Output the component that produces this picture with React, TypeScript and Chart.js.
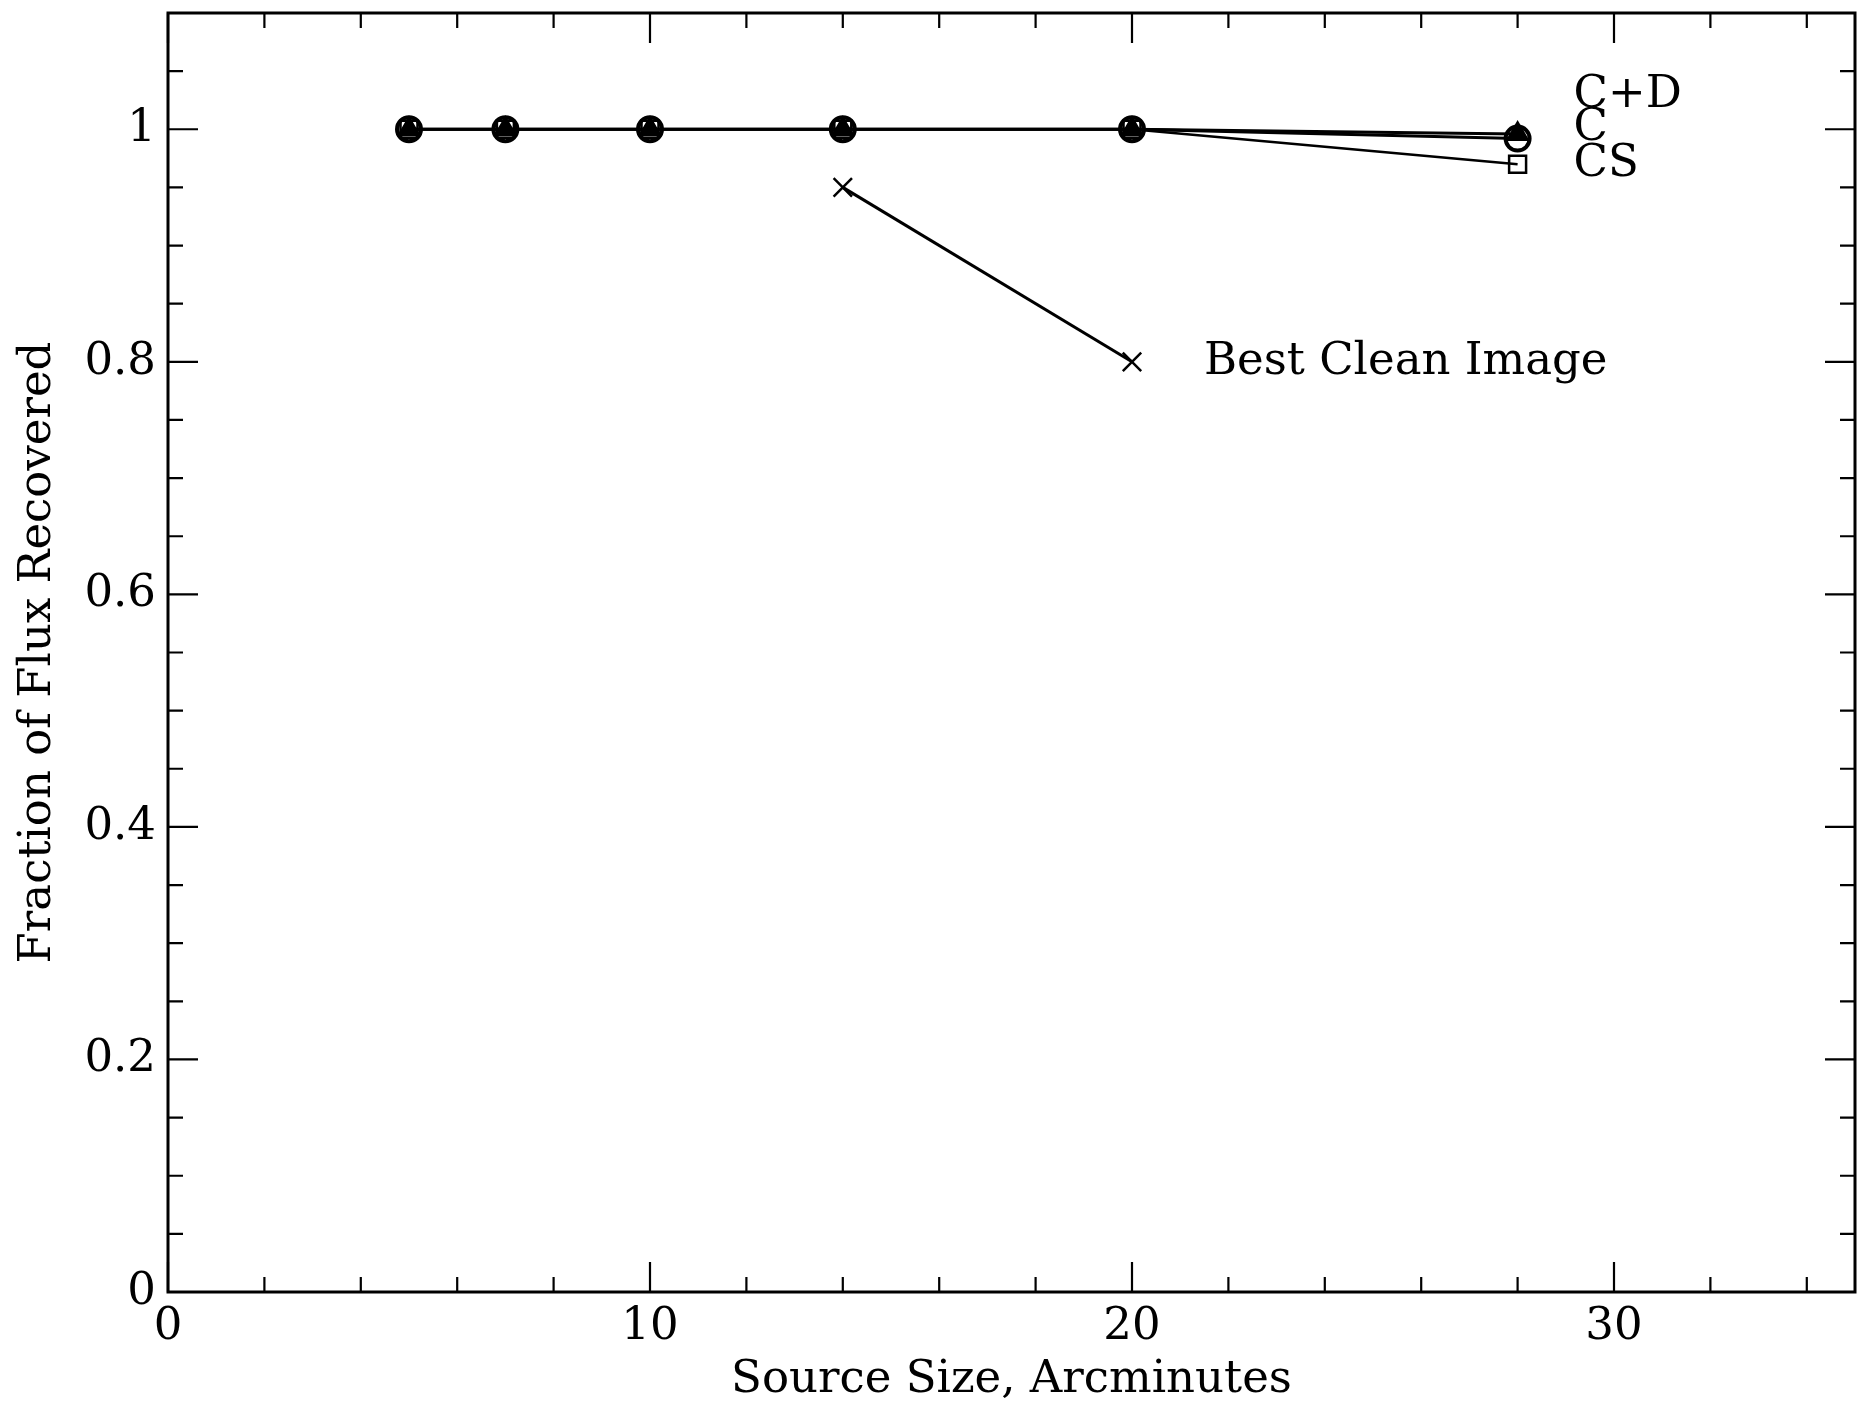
import React, { useEffect, useRef } from "react";
import { Chart, registerables } from "chart.js";

Chart.register(...registerables);

// ---- data ----
const sourceSizes = [5, 7, 10, 14, 20, 28];
const fluxCD = [1.0, 1.0, 1.0, 1.0, 1.0, 0.996];
const fluxC = [1.0, 1.0, 1.0, 1.0, 1.0, 0.992];
const fluxCS = [1.0, 1.0, 1.0, 1.0, 1.0, 0.97];
const cleanSizes = [14, 20];
const fluxClean = [0.95, 0.8];
const seriesNames = ["C+D", "C", "CS", "Best Clean Image"];

const xTickValues = [0, 10, 20, 30];
const xMinorTicks = [2, 4, 6, 8, 12, 14, 16, 18, 22, 24, 26, 28, 32, 34];
const yTickValues = [0, 0.2, 0.4, 0.6, 0.8, 1];
const yMinorTicks = [0.05, 0.1, 0.15, 0.25, 0.3, 0.35, 0.45, 0.5, 0.55, 0.65, 0.7, 0.75, 0.85, 0.9, 0.95, 1.05];

const FONT = "'DejaVu Serif', serif";

const toPoints = (xs: number[], ys: number[]) => xs.map((x, i) => ({ x, y: ys[i] }));

// label offsets (pixels) relative to each series' last point
const labelOffsets = [
  { dx: 56, dy: -39 },
  { dx: 56, dy: -10 },
  { dx: 56, dy: 0 },
  { dx: 72, dy: 0 },
];

const framePlugin = {
  id: "frameTicks",
  afterDatasetsDraw(chart: any) {
    const { ctx, chartArea, scales } = chart;
    const { left, right, top, bottom } = chartArea;
    const xs = scales.x;
    const ys = scales.y;
    ctx.save();
    ctx.strokeStyle = "#000";
    ctx.lineCap = "butt";
    // frame
    ctx.lineWidth = 3;
    ctx.strokeRect(left, top, right - left, bottom - top);
    // ticks
    ctx.lineWidth = 2.2;
    const major = 30;
    const minor = 15;
    ctx.beginPath();
    const xt = (v: number, len: number) => {
      const px = xs.getPixelForValue(v);
      ctx.moveTo(px, bottom);
      ctx.lineTo(px, bottom - len);
      ctx.moveTo(px, top);
      ctx.lineTo(px, top + len);
    };
    const yt = (v: number, len: number) => {
      const py = ys.getPixelForValue(v);
      ctx.moveTo(left, py);
      ctx.lineTo(left + len, py);
      ctx.moveTo(right, py);
      ctx.lineTo(right - len, py);
    };
    xTickValues.forEach((v) => xt(v, major));
    xMinorTicks.forEach((v) => xt(v, minor));
    yTickValues.forEach((v) => yt(v, major));
    yMinorTicks.forEach((v) => yt(v, minor));
    ctx.stroke();

    // series labels
    ctx.fillStyle = "#000";
    ctx.font = `45px ${FONT}`;
    ctx.textAlign = "left";
    ctx.textBaseline = "middle";
    chart.data.datasets.forEach((ds: any, i: number) => {
      const meta = chart.getDatasetMeta(i);
      const last = meta.data[meta.data.length - 1];
      if (!last) return;
      const off = labelOffsets[i];
      ctx.fillText(ds.label, last.x + off.dx, last.y + off.dy);
    });
    ctx.restore();
  },
};

export default function App() {
  const canvasRef = useRef<HTMLCanvasElement | null>(null);

  useEffect(() => {
    document.body.style.margin = "0";
    const canvas = canvasRef.current;
    if (!canvas) return;
    const tickFont = { family: FONT, size: 45 };
    const chart = new Chart(canvas, {
      type: "line",
      data: {
        datasets: [
          {
            label: seriesNames[0],
            data: toPoints(sourceSizes, fluxCD),
            borderColor: "#000",
            borderWidth: 3,
            pointStyle: "triangle",
            pointRadius: 12,
            pointBackgroundColor: "#000",
            pointBorderColor: "#000",
            pointBorderWidth: 2,
          },
          {
            label: seriesNames[1],
            data: toPoints(sourceSizes, fluxC),
            borderColor: "#000",
            borderWidth: 3,
            pointStyle: "circle",
            pointRadius: 12,
            pointBackgroundColor: "rgba(0,0,0,0)",
            pointBorderColor: "#000",
            pointBorderWidth: 4,
          },
          {
            label: seriesNames[2],
            data: toPoints(sourceSizes, fluxCS),
            borderColor: "#000",
            borderWidth: 2.5,
            pointStyle: "rect",
            pointRadius: 12,
            pointBackgroundColor: "rgba(0,0,0,0)",
            pointBorderColor: "#000",
            pointBorderWidth: 2.5,
          },
          {
            label: seriesNames[3],
            data: toPoints(cleanSizes, fluxClean),
            borderColor: "#000",
            borderWidth: 3,
            pointStyle: "crossRot",
            pointRadius: 13,
            pointBorderColor: "#000",
            pointBorderWidth: 2.5,
          },
        ],
      },
      options: {
        responsive: false,
        animation: false,
        devicePixelRatio: 1,
        layout: { autoPadding: false, padding: { top: 13, right: 4, left: 0, bottom: 0 } },
        plugins: { legend: { display: false }, tooltip: { enabled: false } },
        elements: { line: { tension: 0 } },
        scales: {
          x: {
            type: "linear",
            min: 0,
            max: 35,
            grid: { display: false, drawTicks: false },
            border: { display: false },
            afterBuildTicks: (s: any) => {
              s.ticks = xTickValues.map((v) => ({ value: v }));
            },
            afterFit: (s: any) => {
              s.height = 111;
              s.paddingLeft = 0;
              s.paddingRight = 0;
            },
            ticks: {
              font: tickFont,
              color: "#000",
              padding: 8,
              maxRotation: 0,
              autoSkip: false,
              callback: (v: any) => String(v),
            },
            title: {
              display: true,
              text: "Source Size, Arcminutes",
              color: "#000",
              font: { family: FONT, size: 45, lineHeight: 1 },
              padding: 0,
            },
          },
          y: {
            type: "linear",
            min: 0,
            max: 1.1,
            grid: { display: false, drawTicks: false },
            border: { display: false },
            afterBuildTicks: (s: any) => {
              s.ticks = yTickValues.map((v) => ({ value: v }));
            },
            afterFit: (s: any) => {
              s.width = 168;
              s.paddingTop = 0;
              s.paddingBottom = 0;
            },
            ticks: {
              font: tickFont,
              color: "#000",
              padding: 12,
              autoSkip: false,
              callback: (v: any) => String(v),
            },
            title: {
              display: true,
              text: "Fraction of Flux Recovered",
              color: "#000",
              font: { family: FONT, size: 45, lineHeight: 1 },
              padding: { top: 16, bottom: 0 },
            },
          },
        },
      },
      plugins: [framePlugin],
    } as any);
    return () => chart.destroy();
  }, []);

  return (
    <canvas
      ref={canvasRef}
      width={1859}
      height={1403}
      style={{ display: "block", width: 1859, height: 1403 }}
    />
  );
}
